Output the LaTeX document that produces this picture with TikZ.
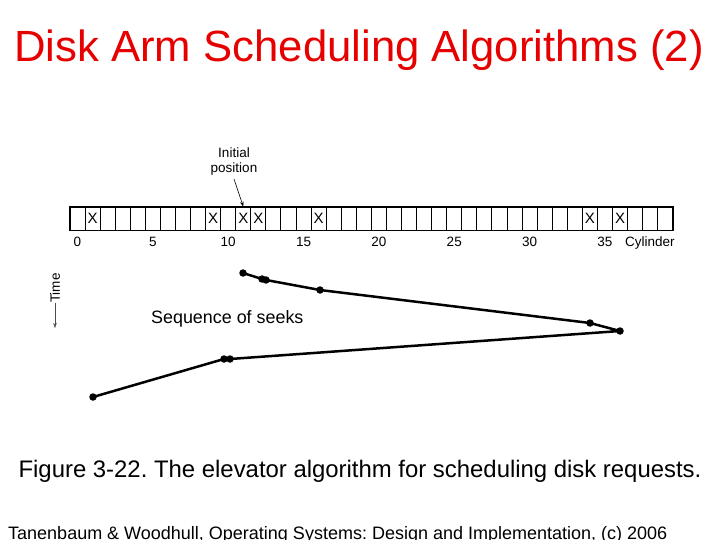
\documentclass[tikz,border=0pt]{standalone}
\usepackage{fontspec}
\setmainfont{Liberation Sans}
\usetikzlibrary{arrows.meta}
\definecolor{titlered}{RGB}{230,0,0}
\frenchspacing
\begin{document}
\begin{tikzpicture}[x=1pt,y=-1pt,
	cell/.style={draw,minimum width=15.07pt,minimum height=23pt,inner sep=0pt,line width=.9pt},
	lbl/.style={font=\fontsize{13.5}{15}\selectfont,inner sep=0pt},
	dot/.style={circle,fill,inner sep=0pt,minimum size=7.5pt},
	seek/.style={line width=2.5pt,line join=round},
	tip/.style={-{Stealth[length=5pt,width=3.5pt]}}]
	\useasboundingbox(0,0)rectangle(720,540);
	\node[font=\fontsize{43.7}{48}\selectfont,text=titlered,anchor=base,inner sep=0pt](title)at(359,62){Disk Arm Scheduling Algorithms (2)};
	\foreach \c in {0,...,39}
		\node[cell](c\c)at({77.5+15.07*\c},218.5){};
	\draw[line width=1.4pt](c0.north west)rectangle(c39.south east);
	\foreach \c in {1,9,11,12,16,34,36}
		\node[lbl,font=\fontsize{15}{16}\selectfont](x\c)at(c\c){X};
	\foreach \c in {0,5,...,35}
		\node[lbl,anchor=base](n\c)at({77.5+15.07*\c},246){\c};
	\node[lbl,anchor=base west](cyl)at(625,246){Cylinder};
	\node[lbl,align=center](init)at(234,162){Initial\\position};
	\draw[tip,semithick]([yshift=-3pt]init.south)--(c11.north);
	\node[lbl,rotate=90](time)at(55,288){Time};
	\coordinate(timeend)at(55,328);
	\draw[tip,thin,black!70](time.west)--(timeend);
	\node[font=\fontsize{17.9}{20}\selectfont,anchor=base west,inner sep=0pt](seq)at(151,323){Sequence of seeks};
	\node[dot](s0)at(243,273){};
	\node[dot](s1)at(262,279){};
	\node[dot](s1b)at(266,280){};
	\node[dot](s2)at(320,290){};
	\node[dot](s3)at(590,323){};
	\node[dot](s4)at(620,331){};
	\node[dot](s5b)at(230,359){};
	\node[dot](s5)at(224,359){};
	\node[dot](s6)at(93,397){};
	\draw[seek](s0.center)--(s1.center)--(s1b.center)--(s2.center)--(s3.center)--(s4.center)--(s5b.center)--(s5.center)--(s6.center);
	\node[font=\fontsize{23.9}{28}\selectfont,anchor=base,inner sep=0pt](caption)at(360,477){Figure 3-22. The elevator algorithm for scheduling disk requests.};
	\node[font=\fontsize{18}{20}\selectfont,anchor=base west,inner sep=0pt](credit)at(8,539){Tanenbaum \& Woodhull, Operating Systems: Design and Implementation, (c) 2006};
\end{tikzpicture}
\end{document}
